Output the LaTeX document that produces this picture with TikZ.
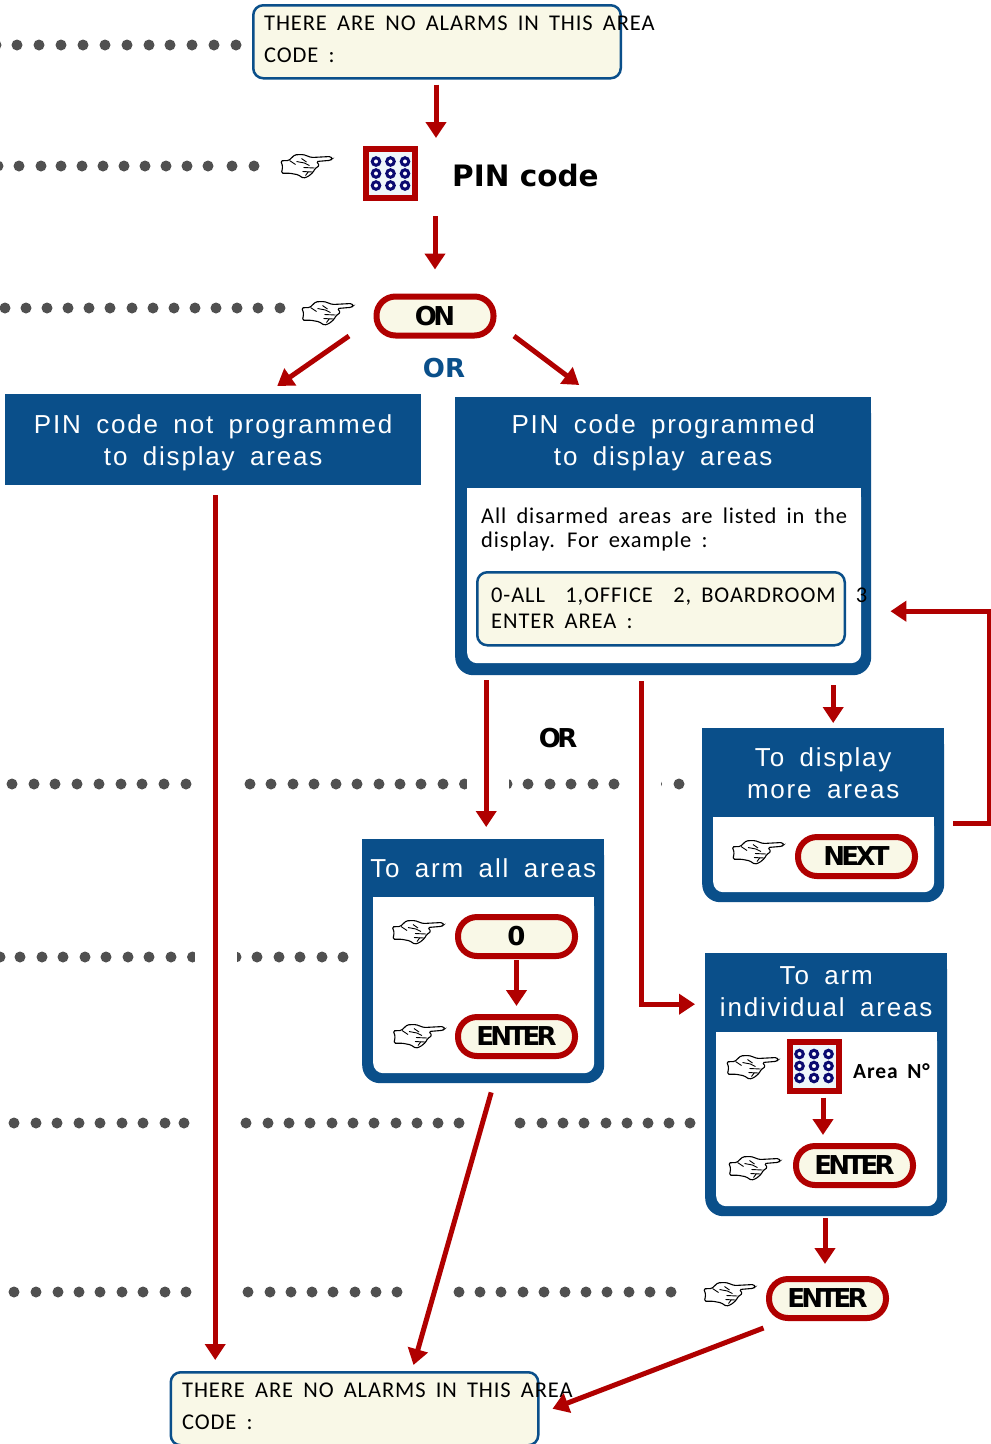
\documentclass[tikz,border=0pt]{standalone}
\usepackage{fontspec}
\setmainfont{Liberation Sans}
\newfontfamily\lcdfont[LetterSpace=4,WordSpace=1.7]{Carlito}
\newfontfamily\hdrfont[LetterSpace=7,WordSpace=1.7]{Liberation Sans}
\newfontfamily\keyfont[LetterSpace=-14]{DejaVu Sans Bold}
\newfontfamily\boldfont{DejaVu Sans Bold}
\usetikzlibrary{arrows.meta,calc}
\definecolor{navyb}{HTML}{0A4F8A}
\definecolor{redd}{HTML}{B00000}
\definecolor{cream}{HTML}{F9F8E7}
\definecolor{dotg}{HTML}{505050}
\definecolor{keyin}{HTML}{EEF6FA}
\definecolor{keyring}{HTML}{0A0A70}
\tikzset{
  x=1pt,y=-1pt,
  arr/.style={draw=redd,line width=5pt,-{Triangle[width=20pt,length=16pt]}},
  lcd/.style={draw=navyb,line width=2.5pt,fill=cream,rounded corners=10pt,minimum width=367.5pt,minimum height=73pt,inner sep=0pt,anchor=north west},
  lcdtext/.style={font=\lcdfont\fontsize{22.5}{24}\selectfont,anchor=west,inner sep=0pt,text=black},
  pill/.style={draw=redd,line width=6pt,fill=cream,rounded corners=19pt,minimum width=117pt,minimum height=39pt,inner sep=0pt,font=\keyfont\fontsize{26}{30}\selectfont},
  hdr/.style={fill=navyb,text=white,inner sep=0pt,anchor=north west,align=center,font=\hdrfont\fontsize{26}{32}\selectfont},
  boxframe/.style={fill=navyb,rounded corners=18pt,inner sep=0pt,anchor=north west},
  boxinner/.style={fill=white,rounded corners=10pt,inner sep=0pt,anchor=north west},
  dot/.style={circle,fill=dotg,minimum size=11pt,inner sep=0pt},
  keyframe/.style={draw=redd,line width=6pt,fill=keyin,minimum size=49pt,inner sep=0pt},
  ring/.style={circle,draw=keyring,line width=3pt,fill=white,minimum size=7.5pt,inner sep=0pt},
  pointer/.pic={
    \draw[black,line width=1.1pt,fill=white,rounded corners=1.4pt]
      (-25.7,-5.7) -- (-17.7,-6) -- (-11.7,-11.7) -- (-3.3,-12) -- (5,-9) -- (24,-10) -- (26,-8) -- (24,-6.2) -- (10,-5)
      -- (13,-1) -- (8.3,2.3) -- (6.7,5.7) -- (1.7,10) -- (-3.3,11.7) -- (-8.3,8.3) -- (-16.7,6.7) -- (-25,6.7) -- (-23.8,0) -- cycle;
    \draw[black,line width=.9pt] (-10,-5) -- (-2,-3.5) -- (3,-1) (-5,-8) -- (0,-4.5) (-3,1) -- (8,1.5) (-4,5) -- (6,5.5) (-1,9) -- (2,5) (-17,-6) -- (-11,-2);
  },
}
\newcommand{\dotrow}[2]{\foreach \dx in {#2}{\node[dot] at (\dx,#1) {};}}
\newcommand{\keyrings}[1]{\foreach \ox in {-14.5,0,14.5}{\foreach \oy in {-12,0,12}{\node[ring] at ($(#1)+(\ox,\oy)$) {};}}}
\begin{document}
\begin{tikzpicture}
\useasboundingbox (0,0) rectangle (991,1444);
\fill[white] (0,0) rectangle (991,1444);
% dotted rows
\dotrow{45}{-4,17,39,61,83,105,127,149,170,192,214,236}
\dotrow{166}{-2,19,41,61,82,103,124,145,166,187,208,232,254}
\dotrow{308}{5,26,47,68,89,110,132,153,174,195,216,237,258,280}
\dotrow{784}{12,34,55,77,99,121,142,164,186,250,271,293,314,336,357,379,400,421,443,464.5,507,528,550,571,593,614,656.5,679}
\dotrow{957}{0,20,42,63,85,106,128,149,171,192.5,236,257,279,300,322,343}
\dotrow{1123}{14,36,57,79,100,122,143,165,184,246,268,289,310,332,353,374,396,417,438,459,520,542,563,584,606,627,648,669,690}
\dotrow{1292}{14,36,58,79,100,122,143,165,186,248,270,291,312,333,355,376,397,459,480,501,523,544,565,586,607,629,650,671}
\fill[white] (467,776) rectangle (508.5,792);
\fill[white] (640,776) rectangle (660.5,792);
\fill[white] (195,949) rectangle (236.7,965);
% top LCD
\node[lcd] (lcdA) at (252,4) {};
\node[lcdtext] (lcdA1) at (264,23) {THERE ARE NO ALARMS IN THIS AREA};
\node[lcdtext] (lcdA2) at (264,55) {CODE :};
% keypad
\pic at (306.5,166.5) {pointer};
\node[keyframe] (keyA) at (390.5,173.5) {};
\keyrings{keyA}
\node[anchor=west,inner sep=0pt,font=\boldfont\fontsize{29.5}{36}\selectfont] (pin) at (452,175) {PIN code};
% ON
\pic at (327.5,313.5) {pointer};
\node[pill] (on) at (435,316) {ON};
\node[text=navyb,inner sep=0pt,font=\boldfont\fontsize{26}{30}\selectfont] (orA) at (444,368) {OR};
% left header
\node[hdr,minimum width=416pt,minimum height=91pt,text depth=-6pt] (hL) at (5,394) {PIN code not programmed\\to display areas};
% right box
\node[boxframe,minimum width=416pt,minimum height=278pt] (fR) at (455,397) {};
\fill[navyb] (455,397) rectangle (871,490);
\node[boxinner,minimum width=394pt,minimum height=175pt] (iR) at (467,488) {};
\fill[white] (467,488) rectangle (861,510);
\node[hdr,minimum width=416pt,minimum height=91pt] (hR) at (455,397) {PIN code programmed\\to display areas};
\node[lcdtext,align=left,anchor=north west,font=\lcdfont\fontsize{22.5}{24}\selectfont] (desc) at (481,508) {All disarmed areas are listed in the\\display. For example :};
\node[lcd] (lcdB) at (476,571) {};
\node[lcdtext] (lcdB1) at (491,597) {0-ALL\ \ 1,OFFICE\ \ 2, BOARDROOM\ \ 3};
\node[lcdtext] (lcdB2) at (491,621) {ENTER AREA :};
% OR black
\node[inner sep=0pt,font=\keyfont\fontsize{26}{30}\selectfont] (orB) at (558,738) {OR};
% display more
\node[boxframe,minimum width=242pt,minimum height=174pt] (fM) at (702,728) {};
\fill[navyb] (702,728) rectangle (944,800);
\node[boxinner,minimum width=221pt,minimum height=75pt] (iM) at (713,817) {};
\fill[white] (713,817) rectangle (934,835);
\node[hdr,minimum width=242pt,minimum height=89pt] (hM) at (702,728) {To display\\more areas};
\pic at (758,852.5) {pointer};
\node[pill] (next) at (856.5,856.5) {NEXT};
% arm all
\node[boxframe,minimum width=242pt,minimum height=244pt] (fA) at (362,839) {};
\fill[navyb] (362,839) rectangle (604,880);
\node[boxinner,minimum width=221pt,minimum height=176pt] (iA) at (373,897) {};
\fill[white] (373,897) rectangle (594,915);
\node[hdr,minimum width=242pt,minimum height=58pt] (hA) at (362,839) {To arm all areas};
\pic at (418,932.5) {pointer};
\node[pill] (zero) at (516.5,936.5) {0};
\pic at (419,1036.5) {pointer};
\node[pill] (enterA) at (516.5,1036.5) {ENTER};
% arm individual
\node[boxframe,minimum width=242pt,minimum height=263pt] (fI) at (705,953) {};
\fill[navyb] (705,953) rectangle (947,1000);
\node[boxinner,minimum width=221pt,minimum height=174pt] (iI) at (716,1032) {};
\fill[white] (716,1032) rectangle (937,1050);
\node[hdr,minimum width=242pt,minimum height=76pt] (hI) at (705,953) {To arm\\individual areas};
\fill[navyb] (705,1025) rectangle (947,1032);
\pic at (752.5,1067.5) {pointer};
\node[keyframe] (keyB) at (814,1066) {};
\keyrings{keyB}
\node[anchor=west,inner sep=0pt,font=\lcdfont\bfseries\fontsize{21.5}{24}\selectfont] (area) at (853,1071) {Area N°};
\pic at (754.5,1168.5) {pointer};
\node[pill] (enterB) at (854.5,1165.5) {ENTER};
% final enter
\pic at (729.5,1294.5) {pointer};
\node[pill] (enterC) at (827.5,1298.5) {ENTER};
% bottom LCD
\node[lcd] (lcdC) at (169.5,1371) {};
\node[lcdtext] (lcdC1) at (182,1390) {THERE ARE NO ALARMS IN THIS AREA};
\node[lcdtext] (lcdC2) at (182,1422) {CODE :};
% connectors
\draw[arr,shorten <=5pt,shorten >=8pt] ([xshift=-1pt]lcdA.south) -- ([xshift=-1pt]lcdA.south |- keyA.north);
\draw[arr,shorten <=15pt,shorten >=24pt] (keyA.south -| on.north) -- (on.north);
\draw[arr] ([xshift=-86pt,yshift=2.5pt]on.south) -- ([xshift=64pt,yshift=8pt]hL.north);
\draw[arr] ([xshift=79pt,yshift=2.5pt]on.south) -- ([xshift=-84pt,yshift=12pt]fR.north);
\draw[arr,shorten <=10pt,shorten >=11pt] ([xshift=2pt]hL.south) -- ([xshift=2pt]hL.south |- lcdC.north);
\draw[arr,shorten <=5pt,shorten >=12pt] ([xshift=-177pt]fR.south) -- ([xshift=-177pt]fR.south |- fA.north);
\draw[arr,shorten <=6pt,shorten >=10pt] ([xshift=-22pt]fR.south) |- ([yshift=80.5pt]fI.west);
\draw[arr,shorten <=10pt,shorten >=5pt] ([xshift=170pt]fR.south) -- ([xshift=170pt]fR.south |- fM.north);
\draw[arr] ([xshift=9pt,yshift=-8pt]fM.east) -- ++(36,0) |- ([xshift=19pt,yshift=-75pt]fR.east);
\draw[arr,shorten <=1pt,shorten >=8pt] (zero.south) -- (enterA.north);
\draw[arr,shorten <=4pt,shorten >=8pt] ([xshift=9pt]keyB.south) -- ([xshift=9pt]keyB.south |- enterB.north);
\draw[arr,shorten <=2pt,shorten >=12pt] ([xshift=-2.5pt]enterC.north |- fI.south) -- ([xshift=-2.5pt]enterC.north);
\draw[arr] ([xshift=8pt,yshift=-9pt]fA.south) -- ([xshift=59pt,yshift=6pt]lcdC.north);
\draw[arr] ([yshift=-7pt,xshift=-64pt]enterC.south) -- ([xshift=13pt]lcdC.east);
\end{tikzpicture}
\end{document}
